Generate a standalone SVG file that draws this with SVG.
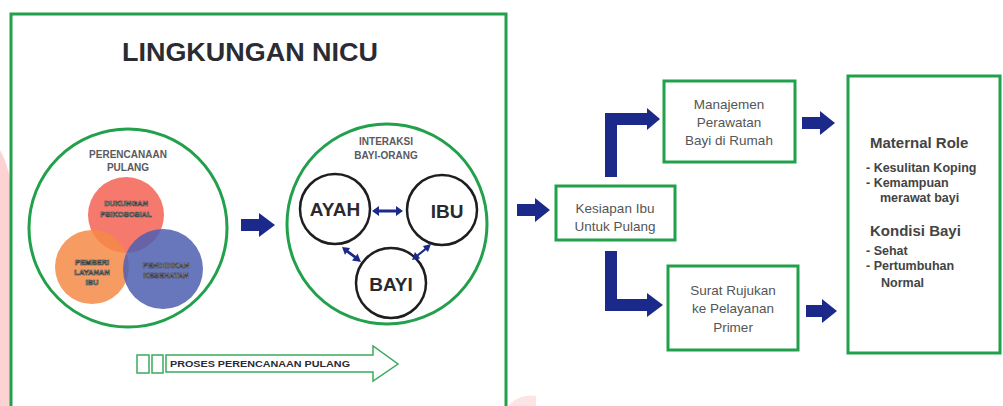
<svg xmlns="http://www.w3.org/2000/svg" width="1003" height="406" viewBox="0 0 1003 406">
<style>
.frame{fill:none;stroke:#22a04b;stroke-width:3}
.box{fill:#fff;stroke:#22a04b;stroke-width:3}
.ring{fill:none;stroke:#22a04b;stroke-width:3}
.person{fill:#fff;stroke:#1e1e22;stroke-width:2.5}
.arrow{fill:#1b2a8a}
.title{font-family:"Liberation Sans",Arial,sans-serif;font-weight:bold;fill:#2a2b33}
.small{font-family:"Liberation Sans",Arial,sans-serif;font-weight:bold;fill:#5a5a5e;font-size:10px;text-anchor:middle}
.venn{font-family:"Liberation Sans",Arial,sans-serif;font-weight:bold;fill:#f4f4f4;stroke:#3a3a3a;stroke-width:0.7;font-size:7.5px;text-anchor:middle}
.who{font-family:"Liberation Sans",Arial,sans-serif;font-weight:bold;fill:#2a2a2e;font-size:19px;text-anchor:middle}
.lbl{font-family:"Liberation Sans",Arial,sans-serif;fill:#555;font-size:13.5px;text-anchor:middle}
.rh{font-family:"Liberation Sans",Arial,sans-serif;font-weight:bold;fill:#444;font-size:15px}
.ri{font-family:"Liberation Sans",Arial,sans-serif;font-weight:bold;fill:#444;font-size:12.5px}
</style>
<rect width="1003" height="406" fill="#fff"/>
<g id="background">
<path d="M0 150 Q8 165 10 180 L10 406 L0 406 Z" fill="#fcd2d2"/>
<path d="M508 406 A30 30 0 0 1 536 396 L536 406 Z" fill="#fde4e4"/>
</g>
<g id="nicu-frame">
<rect class="frame" x="11" y="14" width="495" height="410"/>
<text class="title" x="250" y="61" font-size="25" text-anchor="middle" textLength="256" lengthAdjust="spacingAndGlyphs">LINGKUNGAN NICU</text>
</g>
<g id="perencanaan">
<circle class="ring" cx="128" cy="228" r="99"/>
<text class="small" x="128" y="158">PERENCANAAN</text>
<text class="small" x="128" y="171">PULANG</text>
<circle cx="126" cy="215" r="38" fill="#f46a5c" fill-opacity="0.9"/>
<circle cx="92" cy="267" r="37" fill="#f58a46" fill-opacity="0.85"/>
<circle cx="163" cy="269" r="40" fill="#4d5fb0" fill-opacity="0.85"/>
<text class="venn" x="126" y="206">DUKUNGAN</text>
<text class="venn" x="126" y="217">PSIKOSOSIAL</text>
<text class="venn" x="92" y="265">PEMBERI</text>
<text class="venn" x="92" y="275">LAYANAN</text>
<text class="venn" x="92" y="285">IBU</text>
<text class="venn" x="166" y="268">PENDIDIKAN</text>
<text class="venn" x="166" y="278">KESEHATAN</text>
</g>
<g id="interaksi">
<circle class="ring" cx="387" cy="224" r="100"/>
<text class="small" x="386" y="145">INTERAKSI</text>
<text class="small" x="386" y="159">BAYI-ORANG</text>
<circle class="person" cx="335" cy="209" r="35"/>
<circle class="person" cx="442" cy="210" r="35"/>
<circle class="person" cx="391" cy="283" r="35"/>
<text class="who" x="335" y="216">AYAH</text>
<text class="who" x="447" y="218">IBU</text>
<text class="who" x="391" y="291">BAYI</text>
</g>
<g id="proses">
<rect x="137" y="355" width="12" height="18" fill="#fff" stroke="#3aaa5e" stroke-width="1.5"/>
<rect x="152" y="355" width="11" height="18" fill="#fff" stroke="#3aaa5e" stroke-width="1.5"/>
<path d="M166 355 L373 355 L373 346 L398 364 L373 381 L373 372 L166 372 Z" fill="#fff" stroke="#3aaa5e" stroke-width="1.5"/>
<text class="title" x="260" y="367" font-size="8.5" fill="#555" text-anchor="middle" textLength="180" lengthAdjust="spacingAndGlyphs">PROSES PERENCANAAN PULANG</text>
</g>
<g id="kesiapan">
<rect class="box" x="556" y="186" width="119" height="54"/>
<text class="lbl" x="615" y="213">Kesiapan Ibu</text>
<text class="lbl" x="615" y="231">Untuk Pulang</text>
</g>
<g id="manajemen">
<rect class="box" x="664" y="81" width="131" height="81"/>
<text class="lbl" x="729" y="109">Manajemen</text>
<text class="lbl" x="729" y="127">Perawatan</text>
<text class="lbl" x="729" y="145">Bayi di Rumah</text>
</g>
<g id="surat">
<rect class="box" x="668" y="266" width="130" height="84"/>
<text class="lbl" x="733" y="295">Surat Rujukan</text>
<text class="lbl" x="733" y="313">ke Pelayanan</text>
<text class="lbl" x="733" y="332">Primer</text>
</g>
<g id="outcome">
<rect class="box" x="848" y="76" width="152" height="277"/>
<text class="rh" x="870" y="148">Maternal Role</text>
<text class="ri" x="866" y="172">- Kesulitan Koping</text>
<text class="ri" x="866" y="187">- Kemampuan</text>
<text class="ri" x="880" y="202">merawat bayi</text>
<text class="rh" x="870" y="236">Kondisi Bayi</text>
<text class="ri" x="866" y="255">- Sehat</text>
<text class="ri" x="866" y="270">- Pertumbuhan</text>
<text class="ri" x="881" y="287">Normal</text>
</g>
<g id="connectors">
<path class="arrow" d="M241 219 L259 219 L259 213 L275 225 L259 237 L259 231 L241 231 Z"/>
<path class="arrow" d="M372 211 L379 206 L379 209.5 L396 209.5 L396 206 L403 211 L396 216 L396 212.5 L379 212.5 L379 216 Z"/>
<path class="arrow" d="M342 247 L350 248 L348.5 250.5 L356 256 L357.5 253.5 L361 262 L352 260.5 L354 258 L346.5 252.5 L345 255 Z"/>
<path class="arrow" d="M431 244 L428 252 L426 250 L418.5 256 L420 258.5 L412 260 L415 252 L417 254.5 L424.5 248.5 L423 246 Z"/>
<path class="arrow" d="M517 204 L535 204 L535 198 L550 210 L535 222 L535 216 L517 216 Z"/>
<path class="arrow" d="M605 177 L605 113 L647 113 L647 108 L660 119 L647 130 L647 125 L617 125 L617 177 Z"/>
<path class="arrow" d="M605 251 L617 251 L617 299 L647 299 L647 293 L663 305 L647 317 L647 311 L605 311 Z"/>
<path class="arrow" d="M802 117 L820 117 L820 111 L835 123 L820 135 L820 129 L802 129 Z"/>
<path class="arrow" d="M806 305 L822 305 L822 299 L837 311 L822 323 L822 317 L806 317 Z"/>
</g>
</svg>
